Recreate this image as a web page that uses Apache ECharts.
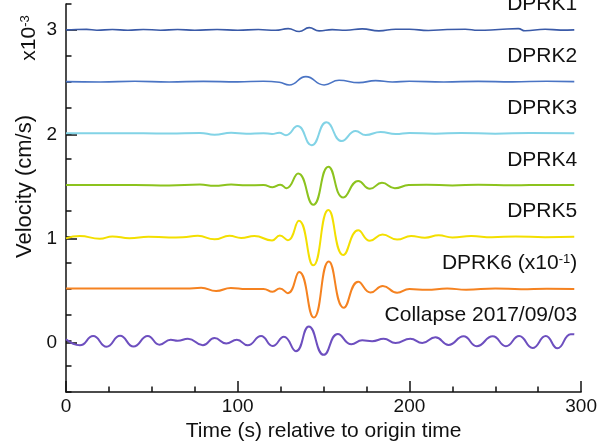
<!DOCTYPE html>
<html>
<head>
<meta charset="utf-8">
<script src="https://cdn.jsdelivr.net/npm/echarts@6/dist/echarts.min.js"></script>
<style>
  html, body { margin: 0; padding: 0; background: #fff; }
  #chart { width: 600px; height: 447px; }
</style>
</head>
<body>
<div id="chart"></div>
<script>
// [time (s), amplitude around the trace baseline]
const dprk1 = [[0, 0], [6, 0.004], [12, 0.005], [18, -0.004], [27, 0.004], [36, -0.004], [45, 0.004], [55, -0.003], [65, 0.003], [75, -0.003], [88, 0.003], [100, -0.003], [112, 0.003], [122, -0.004], [129.4, 0.012], [135.8, -0.016], [141.6, 0.022], [147.4, -0.01], [155, 0.002], [163, -0.004], [172.5, 0.01], [182.2, -0.01], [192, 0.006], [200, 0.006], [211, -0.006], [222, 0.003], [232.5, 0.006], [240, -0.004], [252, 0.003], [263.4, 0.012], [267.3, -0.009], [279, 0.006], [288, -0.002], [296, 0]];
const dprk2 = [[0, 0], [20, -0.003], [40, 0.003], [60, -0.003], [80, 0.002], [100, -0.002], [115, 0.003], [124.2, -0.006], [130, -0.032], [139.7, 0.048], [150.3, -0.032], [159, 0.013], [170.6, -0.01], [180.3, 0.01], [190, -0.004], [200, 0.003], [220, -0.003], [240, 0.002], [260, -0.002], [280, 0.003], [296, 0]];
const dprk3 = [[0, 0], [30, 0.002], [60, -0.002], [78, 0.004], [86.5, -0.013], [96.2, 0.006], [105, -0.003], [115, 0.002], [120, -0.006], [124.2, 0.006], [128.1, -0.018], [134.8, 0.07], [143, -0.115], [151.7, 0.107], [160.6, -0.074], [168.7, 0.022], [174.5, -0.016], [183.2, 0.013], [192, -0.006], [200, 0.004], [215, -0.004], [230, 0.004], [250, -0.003], [270, 0.003], [296, 0]];
const dprk4 = [[0, 0], [40, 0.002], [60, -0.003], [78, 0.005], [86.5, -0.007], [96.2, 0.006], [105, -0.002], [115, 0.001], [120.3, -0.02], [124.8, 0.004], [128.4, -0.03], [135.2, 0.113], [144, -0.19], [152.8, 0.178], [161.5, -0.12], [170.2, 0.04], [177, -0.035], [184, 0.022], [191.5, -0.03], [199.6, 0], [210, 0.003], [225, -0.003], [240, 0.003], [260, -0.002], [280, 0.002], [296, 0]];
const dprk5 = [[0, -0.015], [8, 0.008], [19.7, -0.018], [27, 0.004], [37, -0.013], [48, 0.002], [60, -0.006], [68, -0.004], [76.8, 0.01], [86.5, -0.024], [95.2, 0.01], [102, -0.01], [109.7, 0.008], [120, -0.034], [124.5, 0.013], [129.2, -0.032], [135.6, 0.156], [144, -0.275], [152.8, 0.26], [161.5, -0.175], [170.2, 0.063], [177, -0.038], [184.3, 0.022], [192.8, -0.026], [201, 0.008], [209, -0.008], [217, 0.015], [225, -0.006], [236, 0.008], [248, -0.004], [262, 0.004], [279, -0.003], [296, 0]];
const dprk6 = [[0, 0], [40, 0], [70, 0.001], [78.7, 0.008], [87.4, -0.024], [96, 0.006], [105, -0.004], [115, -0.003], [120.3, -0.03], [124.5, 0.002], [129.2, -0.044], [135.8, 0.16], [144.3, -0.28], [153, 0.263], [161.8, -0.185], [170.2, 0.066], [177.4, -0.038], [184.5, 0.026], [192.8, -0.04], [200, -0.005], [210, -0.012], [222, 0], [233, -0.01], [250, 0.002], [265, -0.006], [280, -0.001], [296, -0.004]];
const collapse = [[0, 0.01], [8.1, -0.048], [15.8, 0.041], [23.6, -0.062], [31.5, 0.044], [39.3, -0.06], [47.6, 0.042], [54.5, -0.042], [61, 0.006], [65, -0.004], [71, 0.016], [79.7, -0.048], [86.5, 0.022], [93.3, -0.03], [99.5, 0.006], [105.8, -0.048], [113.6, 0.042], [120.3, -0.054], [126.9, 0.035], [133.9, -0.105], [141.4, 0.134], [150.1, -0.14], [158.3, 0.062], [166.2, -0.038], [172.5, 0], [178.3, -0.008], [185, 0.015], [191.9, -0.026], [200.5, 0.016], [207.5, -0.026], [215.1, 0.03], [222.8, -0.044], [231.5, 0.04], [239.2, -0.056], [248.5, 0.039], [256.2, -0.056], [263.9, 0.042], [271.7, -0.074], [279.4, 0.042], [286.2, -0.077], [293.9, 0.06], [296, 0.058]];

const traces = [dprk1, dprk2, dprk3, dprk4, dprk5, dprk6, collapse];
const traceOffsets = [3, 2.5, 2, 1.5, 1, 0.5, 0];
const traceNames = ['DPRK1', 'DPRK2', 'DPRK3', 'DPRK4', 'DPRK5', 'DPRK6 (x10{sup|-1})', 'Collapse 2017/09/03'];
const yTickLabels = [0, 1, 2, 3];
const xTickLabels = [0, 100, 200, 300];

const colors = ['#3a5aa8', '#4a74c4', '#82d3e6', '#8cc31e', '#f3df00', '#f58220', '#6d4fbf'];
const font = 'Liberation Sans, Arial, Helvetica, sans-serif';

const chart = echarts.init(document.getElementById('chart'));

chart.setOption({
  animation: false,
  textStyle: { fontFamily: font, color: '#111' },
  grid: [
    { left: 66, right: 17, top: 4, height: 391 },
    // helper grid spanning 0..3, only used for the long ticks and labels
    { left: 66, right: 17, top: 4 + 0.25 * 391 / 3.75, height: 3 * 391 / 3.75 }
  ],
  xAxis: [
    {
      type: 'value',
      gridIndex: 0,
      min: 0,
      max: 300,
      interval: 100,
      axisLine: { onZero: false, lineStyle: { color: '#111', width: 1.5 } },
      axisTick: { inside: true, length: 11, lineStyle: { color: '#111', width: 1.5 } },
      minorTick: { show: true, splitNumber: 4, length: 5.5, lineStyle: { color: '#111', width: 1.5 } },
      splitLine: { show: false },
      axisLabel: {
        fontSize: 19,
        color: '#111',
        margin: 5,
        formatter: v => (xTickLabels.includes(v) ? String(v) : '')
      },
      name: 'Time (s) relative to origin time',
      nameLocation: 'middle',
      nameGap: 28,
      nameTextStyle: { fontSize: 21, color: '#111' }
    },
    { type: 'value', gridIndex: 1, min: 0, max: 300, show: false }
  ],
  yAxis: [
    {
      type: 'value',
      gridIndex: 0,
      min: -0.5,
      max: 3.25,
      interval: 0.25,
      axisLine: { show: true, onZero: false, lineStyle: { color: '#111', width: 1.5 } },
      axisTick: { show: true, inside: true, length: 5.5, lineStyle: { color: '#111', width: 1.5 } },
      axisLabel: { show: false },
      splitLine: { show: false }
    },
    {
      type: 'value',
      gridIndex: 1,
      min: 0,
      max: 3,
      interval: 1,
      axisLine: { show: false, onZero: false },
      axisTick: { show: true, inside: true, length: 11, lineStyle: { color: '#111', width: 1.5 } },
      axisLabel: {
        fontSize: 19,
        color: '#111',
        margin: 9,
        formatter: v => (yTickLabels.includes(v) ? String(v) : '')
      },
      splitLine: { show: false },
      name: 'Velocity (cm/s)',
      nameLocation: 'middle',
      nameRotate: 90,
      nameGap: 29,
      nameTextStyle: { fontSize: 22, color: '#111' }
    }
  ],
  series: traces.map((trace, i) => ({
    type: 'line',
    xAxisIndex: 0,
    yAxisIndex: 0,
    showSymbol: false,
    smooth: 0.5,
    lineStyle: { color: colors[i], width: i < 2 ? 1.6 : 2 },
    data: trace.map(p => [p[0], traceOffsets[i] + p[1]])
  }))
});

/*曲线名称放在每条曲线右上方*/
const labelTime = 297.7;
const labelLift = 0.245;
const graphics = traceNames.map((name, i) => {
  const pos = chart.convertToPixel({ gridIndex: 0 }, [labelTime, traceOffsets[i] + labelLift]);
  return {
    type: 'text',
    x: pos[0],
    y: pos[1],
    style: {
      text: name,
      fill: '#111',
      fontSize: 21,
      fontFamily: font,
      align: 'right',
      verticalAlign: 'middle',
      rich: { sup: { fontSize: 13, fontFamily: font, fill: '#111', verticalAlign: 'top' } }
    }
  };
});
graphics.push({
  type: 'text',
  x: 29,
  y: 38,
  rotation: Math.PI / 2,
  style: {
    text: 'x10{sup|-3}',
    fill: '#111',
    fontSize: 21,
    fontFamily: font,
    align: 'center',
    verticalAlign: 'middle',
    rich: { sup: { fontSize: 13, fontFamily: font, fill: '#111', verticalAlign: 'top' } }
  }
});
chart.setOption({ graphic: graphics });
</script>
</body>
</html>
